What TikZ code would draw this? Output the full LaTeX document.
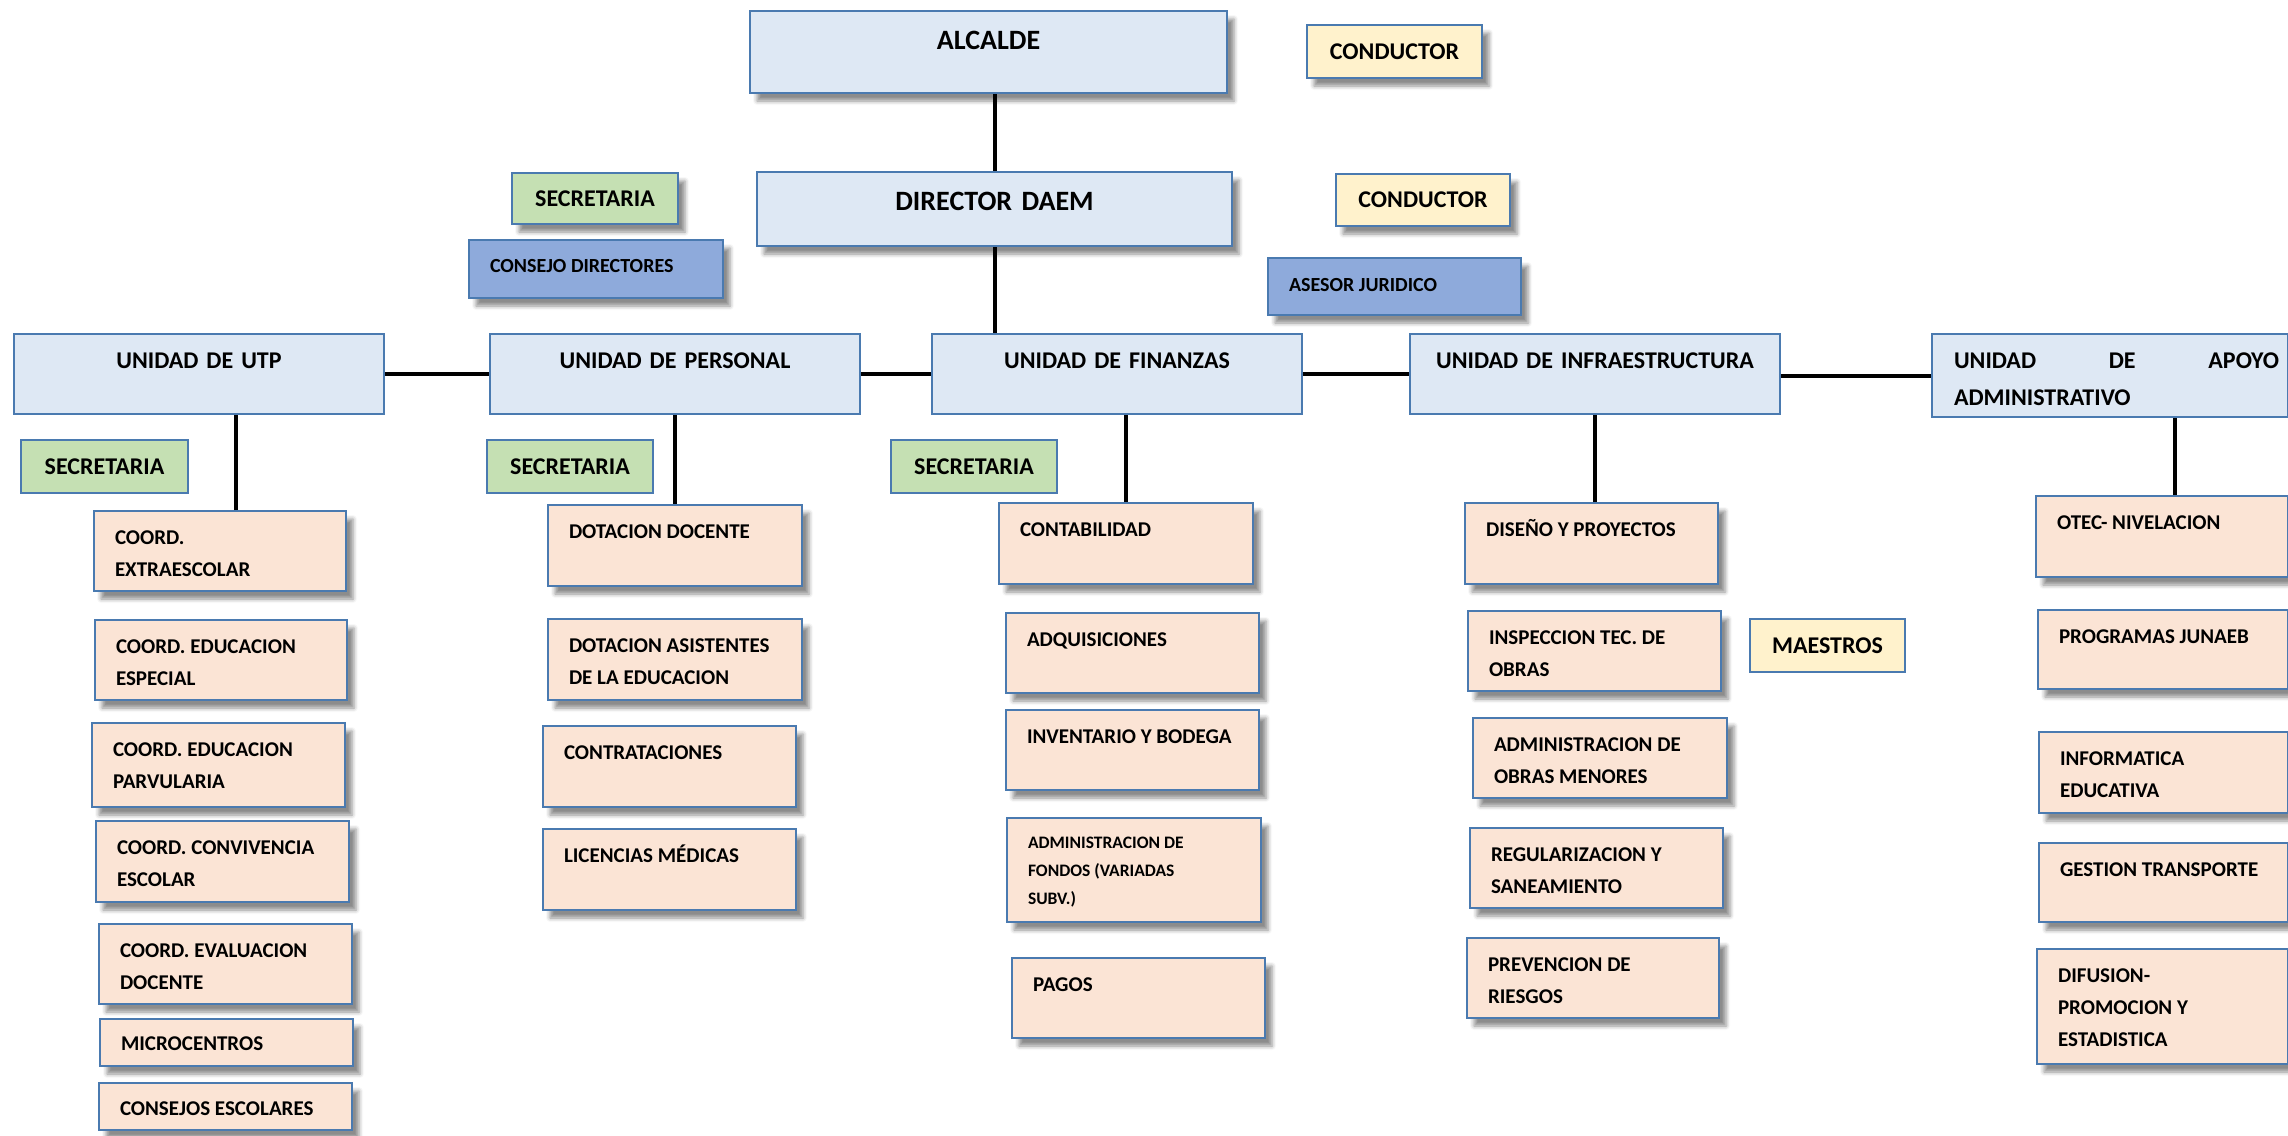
\documentclass[tikz,border=0pt]{standalone}
\usepackage{fontspec}
\setmainfont{Carlito}
\usetikzlibrary{shadows.blur}

\definecolor{boxline}{HTML}{4A7AB0}
\definecolor{unitblue}{HTML}{DEE8F4}
\definecolor{peach}{HTML}{FBE4D5}
\definecolor{secgreen}{HTML}{C5E0B3}
\definecolor{drvyellow}{HTML}{FFF2CC}
\definecolor{advblue}{HTML}{8EAADB}

\tikzset{
  box/.style={draw=boxline, line width=2pt, inner sep=0pt, anchor=north west},
  shade/.style={blur shadow={shadow xshift=7pt, shadow yshift=-8pt,
      shadow blur radius=4pt, shadow opacity=45}},
  headbox/.style={box, shade, fill=unitblue, align=center, text height=38pt,
      font=\fontsize{28}{34}\selectfont\bfseries},
  unitbox/.style={box, fill=unitblue, align=center, text width=370pt,
      text height=34pt, text depth=46pt, font=\fontsize{24}{37}\selectfont\bfseries},
  itembox/.style={box, shade, fill=peach, align=left, text height=33pt,
      font=\fontsize{21}{32}\selectfont\bfseries,
      execute at begin node={\leftskip=21pt\spaceskip=0pt\xspaceskip=0pt}},
  advbox/.style={box, shade, fill=advblue, align=left,
      font=\fontsize{20}{26}\selectfont\bfseries,
      execute at begin node={\leftskip=21pt\spaceskip=0pt\xspaceskip=0pt}},
  tagbox/.style={box, font=\fontsize{24}{29}\selectfont\bfseries},
  secbox/.style={tagbox, fill=secgreen},
  drvbox/.style={tagbox, fill=drvyellow},
  conn/.style={line width=4pt, black}
}

\begin{document}
\begin{tikzpicture}[x=1pt, y=-1pt]
  \useasboundingbox (0,0) rectangle (2288,1135);
  \clip (0,0) rectangle (2288,1135);

  % direccion
  \node[headbox, text width=477pt, text depth=44pt] (alcalde) at (749,10) {ALCALDE};
  \node[headbox, text width=475pt, text depth=36pt] (director) at (756,171) {DIRECTOR DAEM};
  \node[drvbox, shade, minimum width=175pt, minimum height=53pt] (cond1) at (1306,24) {CONDUCTOR};
  \node[drvbox, shade, minimum width=174pt, minimum height=52pt] (cond2) at (1335,173) {CONDUCTOR};
  \node[secbox, shade, minimum width=166pt, minimum height=51pt] (secdir) at (511,172) {SECRETARIA};
  \node[advbox, text width=254pt, text height=32pt, text depth=26pt] (consejo) at (468,239) {CONSEJO DIRECTORES};
  \node[advbox, text width=253pt, text height=33pt, text depth=24pt] (asesor) at (1267,257) {ASESOR JURIDICO};

  % unidades
  \node[unitbox] (utp) at (13,333) {UNIDAD DE UTP};
  \node[unitbox] (pers) at (489,333) {UNIDAD DE PERSONAL};
  \node[unitbox] (fin) at (931,333) {UNIDAD DE FINANZAS};
  \node[unitbox] (infra) at (1409,333) {UNIDAD DE INFRAESTRUCTURA};
  \node[unitbox, text width=356pt, text depth=49pt, align=left,
        execute at begin node={\leftskip=22pt\rightskip=9pt\spaceskip=0pt}] (apoyo) at (1931,333)
        {UNIDAD\hfill DE\hfill APOYO\\ADMINISTRATIVO};

  \node[secbox, minimum width=167pt, minimum height=53pt] (secutp) at (20,439) {SECRETARIA};
  \node[secbox, minimum width=166pt, minimum height=53pt] (secpers) at (486,439) {SECRETARIA};
  \node[secbox, minimum width=166pt, minimum height=53pt] (secfin) at (890,439) {SECRETARIA};

  % UTP
  \node[itembox, text width=252pt, text depth=47pt] (extra) at (93,510) {COORD.\\EXTRAESCOLAR};
  \node[itembox, text width=252pt, text depth=47pt] (especial) at (94,619) {COORD. EDUCACION\\ESPECIAL};
  \node[itembox, text width=253pt, text depth=51pt] (parv) at (91,722) {COORD. EDUCACION\\PARVULARIA};
  \node[itembox, text width=253pt, text depth=48pt] (conviv) at (95,820) {COORD. CONVIVENCIA\\ESCOLAR};
  \node[itembox, text width=253pt, text depth=47pt] (evalua) at (98,923) {COORD. EVALUACION\\DOCENTE};
  \node[itembox, text width=253pt, text height=31pt, text depth=16pt] (micro) at (99,1018) {MICROCENTROS};
  \node[itembox, text width=253pt, text height=32pt, text depth=15pt] (consejos) at (98,1082) {CONSEJOS ESCOLARES};

  % personal
  \node[itembox, text width=254pt, text depth=48pt] (dotdoc) at (547,504) {DOTACION DOCENTE};
  \node[itembox, text width=254pt, text depth=48pt] (dotasis) at (547,618) {DOTACION ASISTENTES\\DE LA EDUCACION};
  \node[itembox, text width=253pt, text depth=48pt] (contrat) at (542,725) {CONTRATACIONES};
  \node[itembox, text width=253pt, text depth=48pt] (licen) at (542,828) {LICENCIAS MÉDICAS};

  % finanzas
  \node[itembox, text width=254pt, text depth=48pt] (contab) at (998,502) {CONTABILIDAD};
  \node[itembox, text width=253pt, text depth=47pt] (adqui) at (1005,612) {ADQUISICIONES};
  \node[itembox, text width=253pt, text depth=47pt] (invent) at (1005,709) {INVENTARIO Y BODEGA};
  \node[itembox, text width=254pt, text height=30pt, text depth=74pt,
        font=\fontsize{17.5}{28}\selectfont\bfseries] (fondos) at (1006,817)
        {ADMINISTRACION DE\\FONDOS (VARIADAS\\SUBV.)};
  \node[itembox, text width=253pt, text depth=47pt] (pagos) at (1011,957) {PAGOS};

  % infraestructura
  \node[itembox, text width=253pt, text depth=48pt] (diseno) at (1464,502) {DISEÑO Y PROYECTOS};
  \node[itembox, text width=253pt, text depth=47pt] (inspec) at (1467,610) {INSPECCION TEC. DE\\OBRAS};
  \node[itembox, text width=254pt, text depth=47pt] (obras) at (1472,717) {ADMINISTRACION DE\\OBRAS MENORES};
  \node[itembox, text width=253pt, text depth=47pt] (regul) at (1469,827) {REGULARIZACION Y\\SANEAMIENTO};
  \node[itembox, text width=252pt, text depth=47pt] (preven) at (1466,937) {PREVENCION DE\\RIESGOS};
  \node[drvbox, minimum width=155pt, minimum height=53pt] (maestros) at (1749,618) {MAESTROS};

  % apoyo administrativo
  \node[itembox, text width=252pt, text depth=48pt] (otec) at (2035,495) {OTEC- NIVELACION};
  \node[itembox, text width=250pt, text depth=46pt] (junaeb) at (2037,609) {PROGRAMAS JUNAEB};
  \node[itembox, text width=249pt, text depth=48pt] (informat) at (2038,731) {INFORMATICA\\EDUCATIVA};
  \node[itembox, text width=249pt, text depth=46pt] (gestion) at (2038,842) {GESTION TRANSPORTE};
  \node[itembox, text width=251pt, text depth=82pt] (difusion) at (2036,948) {DIFUSION-\\PROMOCION Y\\ESTADISTICA};

  % lineas
  \draw[conn] (director.north |- alcalde.south) -- (director.north);
  \draw[conn] (director.south) -- (director.south |- fin.north);
  \draw[conn] (utp.east) -- (pers.west);
  \draw[conn] (pers.east) -- (fin.west);
  \draw[conn] (fin.east) -- (infra.west);
  \draw[conn] ([yshift=-2pt]infra.east) -- ([yshift=-2pt]infra.east -| apoyo.west);
  \draw[conn] ([xshift=16pt]extra.north) -- ([xshift=16pt]extra.north |- utp.south);
  \draw[conn] (pers.south) -- (pers.south |- dotdoc.north);
  \draw[conn] (contab.north) -- (contab.north |- fin.south);
  \draw[conn] (infra.south) -- (infra.south |- diseno.north);
  \draw[conn] ([xshift=13pt]otec.north) -- ([xshift=13pt]otec.north |- apoyo.south);
\end{tikzpicture}
\end{document}
